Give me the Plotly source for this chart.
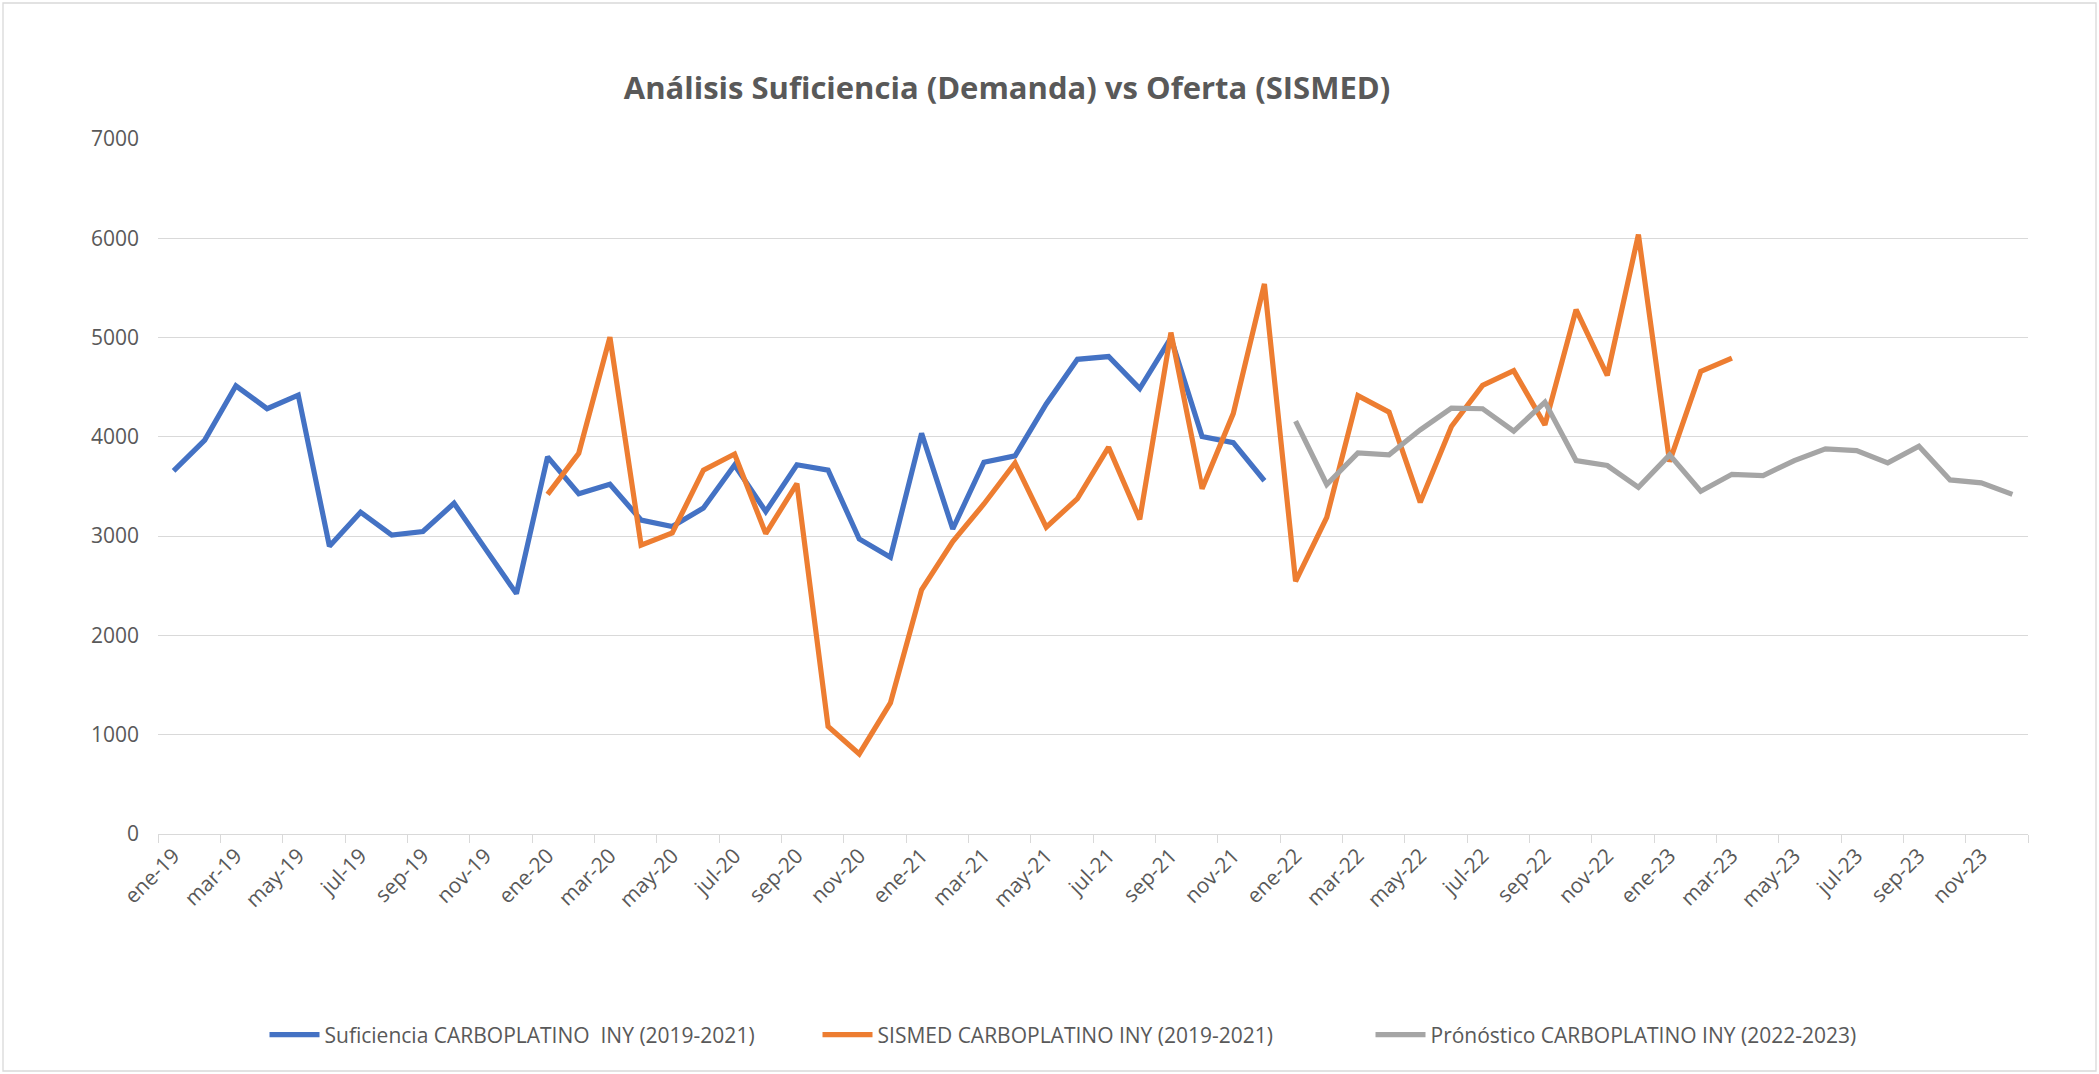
import plotly.graph_objects as go

# --- data ------------------------------------------------------------------
MONTHS = ["ene", "feb", "mar", "abr", "may", "jun",
          "jul", "ago", "sep", "oct", "nov", "dic"]
YEARS = ["19", "20", "21", "22", "23"]
categories = [f"{m}-{y}" for y in YEARS for m in MONTHS]

# Suficiencia CARBOPLATINO INY (2019-2021): ene-19 .. dic-21
suficiencia = [3658, 3968, 4514, 4284, 4421, 2899, 3241, 3011, 3047, 3331, 2874, 2421,
               3799, 3428, 3522, 3162, 3097, 3284, 3716, 3248, 3719, 3665, 2971, 2788,
               4036, 3072, 3745, 3809, 4331, 4781, 4809, 4486, 4996, 4004, 3942, 3558]

# SISMED CARBOPLATINO INY: ene-20 .. mar-23
sismed = [3421, 3835, 5004, 2910, 3032, 3665, 3827, 3025, 3529, 1083, 806, 1320,
          2460, 2946, 3324, 3737, 3090, 3378, 3896, 3169, 5050, 3478, 4234, 5540,
          2545, 3190, 4415, 4249, 3341, 4104, 4518, 4666, 4121, 5282, 4619, 6038,
          3751, 4659, 4794]

# Pronóstico CARBOPLATINO INY (2022-2023): ene-22 .. dic-23
pronostico = [4158, 3520, 3839, 3820, 4071, 4289, 4283, 4057, 4350, 3761, 3711, 3492,
              3818, 3452, 3623, 3610, 3761, 3879, 3862, 3738, 3906, 3566, 3536, 3421]

series = [
    ("Suficiencia CARBOPLATINO  INY (2019-2021)", categories[0:36], suficiencia, "#4472C4"),
    ("SISMED CARBOPLATINO INY (2019-2021)", categories[12:51], sismed, "#ED7D31"),
    ("Prónóstico CARBOPLATINO INY (2022-2023)", categories[36:60], pronostico, "#A5A5A5"),
]

# --- chrome ------------------------------------------------------------------
FONT = "Open Sans, Noto Sans, sans-serif"
TEXT = "#595959"
GRID = "#d9d9d9"
W, H = 2099, 1074
L, R, T, B = 158, 71, 139, 240
PW, PH = W - L - R, H - T - B

fig = go.Figure()
for name, x, y, color in series:
    fig.add_trace(go.Scatter(
        x=x, y=y, mode="lines", name=name,
        line=dict(color=color, width=5.2),
        hovertemplate="%{x}: %{y:.0f}<extra>" + name + "</extra>"))

fig.update_layout(
    width=W, height=H,
    paper_bgcolor="white", plot_bgcolor="white",
    font=dict(family=FONT, color=TEXT, size=21),
    margin=dict(l=L, r=R, t=T, b=B, autoexpand=False),
    title=dict(text="<b>Análisis Suficiencia (Demanda) vs Oferta (SISMED)</b>",
               font=dict(size=31, color=TEXT, family=FONT),
               x=1007 / W, xref="container", xanchor="center",
               y=1 - 88 / H, yref="container", yanchor="middle"),
    legend=dict(orientation="h", x=1094 / W, xref="container", xanchor="center",
                y=1 - 1035 / H, yref="container", yanchor="middle",
                font=dict(size=21, color=TEXT), bgcolor="rgba(0,0,0,0)",
                itemwidth=50, entrywidth=488),
    showlegend=True,
    # light chart-area border, as in the spreadsheet export
    shapes=[dict(type="rect", xref="paper", yref="paper",
                 x0=-(L - 3) / PW, x1=(W - 3 - L) / PW,
                 y0=-(H - 3 - (T + PH)) / PH, y1=(T + PH - 3) / PH,
                 line=dict(color=GRID, width=1.3), fillcolor="rgba(0,0,0,0)",
                 layer="below")],
)

fig.update_xaxes(
    type="category", categoryorder="array", categoryarray=categories,
    range=[-0.5, len(categories) - 0.5],
    tickmode="linear", tick0=0, dtick=2, tickson="boundaries",
    tickangle=-45, ticks="outside", ticklen=8, tickcolor=GRID, tickwidth=1.3,
    showline=True, linecolor=GRID, linewidth=1.3, showgrid=False,
    tickfont=dict(size=21, color=TEXT))

fig.update_yaxes(
    range=[0, 7000], dtick=1000, showgrid=True, gridcolor=GRID, gridwidth=1.3,
    zeroline=False, showline=False, ticks="", ticklabelstandoff=18,
    tickfont=dict(size=21, color=TEXT))

fig.write_html("out.html", config={"displayModeBar": False},
               post_script="document.body.style.margin = '0';")
